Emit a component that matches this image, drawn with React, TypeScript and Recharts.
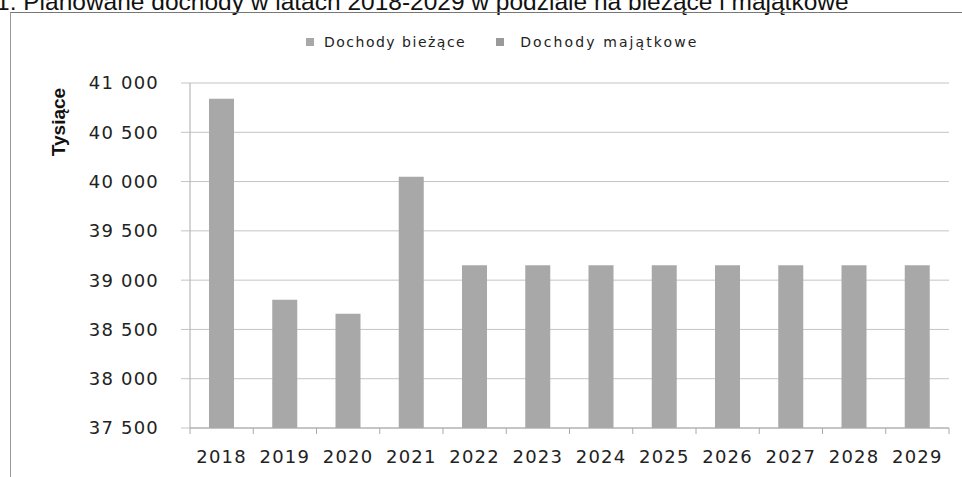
import React from "react";
import { BarChart, Bar, XAxis, YAxis, CartesianGrid, Legend } from "recharts";

const years = ["2018", "2019", "2020", "2021", "2022", "2023", "2024", "2025", "2026", "2027", "2028", "2029"];
const biezace = [40840, 38800, 38660, 40050, 39150, 39150, 39150, 39150, 39150, 39150, 39150, 39150];
// majątkowe nie są widoczne na wykresie
const majatkowe = [0, 0, 0, 0, 0, 0, 0, 0, 0, 0, 0, 0];
const yTicks = [37500, 38000, 38500, 39000, 39500, 40000, 40500, 41000];

const data = years.map((year, i) => ({
  year,
  biezace: biezace[i],
  majatkowe: majatkowe[i],
}));

const W = 962;
const H = 477;
const PLOT_LEFT = 190;
const PLOT_RIGHT = 949;
const PLOT_TOP = 83;
const PLOT_BOTTOM = 428;
const Y_AXIS_W = 110;
const X_AXIS_H = H - PLOT_BOTTOM;
const X_TICK_SIZE = 6;
const X_TICK_MARGIN = 16;
const HALF_BAND = (PLOT_RIGHT - PLOT_LEFT) / years.length / 2;

const tickFont = {
  fontFamily: "'DejaVu Sans', sans-serif",
  fontSize: 18,
  letterSpacing: 1.2,
  fill: "#222",
};

const gridColor = "#c4c4c4";
const barColor = "#a8a8a8";

function YearTick(props: any) {
  const { x, y, payload, index } = props;
  const axisY = y - X_TICK_SIZE - X_TICK_MARGIN;
  const half = payload && payload.offset ? payload.offset : HALF_BAND;
  const last = index === years.length - 1;
  return (
    <g>
      <line x1={x - half} x2={x - half} y1={axisY} y2={axisY + X_TICK_SIZE} stroke="#aaa" />
      {last && <line x1={x + half} x2={x + half} y1={axisY} y2={axisY + X_TICK_SIZE} stroke="#aaa" />}
      <text x={x} y={y} dy="0.71em" textAnchor="middle" {...tickFont}>
        {payload.value}
      </text>
    </g>
  );
}

function LegendContent(props: any) {
  const items = props.payload || [];
  return (
    <div style={{ display: "flex", paddingLeft: 306, alignItems: "center" }}>
      {items.map((item: any, i: number) => (
        <div key={item.value} style={{ display: "flex", alignItems: "center", marginRight: i === 0 ? 30 : 0 }}>
          <div style={{ width: 8, height: 8, background: item.color, marginRight: i === 0 ? 10 : 16 }} />
          <span
            style={{
              fontFamily: "'DejaVu Sans', sans-serif",
              fontSize: 14,
              letterSpacing: i === 0 ? 1.5 : 2.1,
              color: "#222",
            }}
          >
            {item.value}
          </span>
        </div>
      ))}
    </div>
  );
}

export default function App() {
  return (
    <div style={{ position: "absolute", top: 0, left: 0, width: W, height: H, overflow: "hidden", background: "#fff" }}>
      <span
        style={{
          position: "absolute",
          left: -4,
          top: -10,
          fontFamily: "'Liberation Sans', Arial, sans-serif",
          fontSize: 24.5,
          lineHeight: "24.5px",
          whiteSpace: "nowrap",
          color: "#111",
        }}
      >
        1. Planowane dochody w latach 2018-2029 w podziale na bieżące i majątkowe
      </span>
      <div
        style={{
          position: "absolute",
          left: 10,
          top: 12,
          width: 1000,
          height: 500,
          borderTop: "1.5px solid #777",
          borderLeft: "1px solid #999",
        }}
      />
      <span
        style={{
          position: "absolute",
          left: 59,
          top: 122,
          transform: "translate(-50%, -50%) rotate(-90deg)",
          fontFamily: "'Liberation Sans', Arial, sans-serif",
          fontWeight: "bold",
          fontSize: 19,
          whiteSpace: "nowrap",
          color: "#111",
        }}
      >
        Tysiące
      </span>
      <BarChart
        width={W}
        height={H}
        data={data}
        margin={{ top: PLOT_TOP, right: W - PLOT_RIGHT, bottom: 0, left: PLOT_LEFT - Y_AXIS_W }}
        style={{ position: "absolute", top: 0, left: 0 }}
      >
        <CartesianGrid vertical={false} stroke={gridColor} />
        <XAxis
          dataKey="year"
          height={X_AXIS_H}
          axisLine={{ stroke: "#aaa" }}
          tickLine={false}
          tickSize={X_TICK_SIZE}
          tickMargin={X_TICK_MARGIN}
          interval={0}
          tick={<YearTick />}
        />
        <YAxis
          width={Y_AXIS_W}
          domain={[37500, 41000]}
          ticks={yTicks}
          allowDataOverflow
          axisLine={{ stroke: "#aaa" }}
          tickLine={{ stroke: gridColor }}
          tickSize={9}
          tickMargin={22}
          tick={tickFont}
          tickFormatter={(v: number) => v.toLocaleString("pl-PL").replace(/\s/g, " ")}
        />
        <Legend
          layout="vertical"
          verticalAlign="middle"
          align="center"
          wrapperStyle={{ top: 34, left: 0, width: W }}
          content={<LegendContent />}
        />
        <Bar dataKey="biezace" name="Dochody bieżące" stackId="a" fill={barColor} barSize={25} isAnimationActive={false} />
        <Bar dataKey="majatkowe" name="Dochody majątkowe" stackId="a" fill="#9a9a9a" barSize={25} isAnimationActive={false} />
      </BarChart>
    </div>
  );
}
